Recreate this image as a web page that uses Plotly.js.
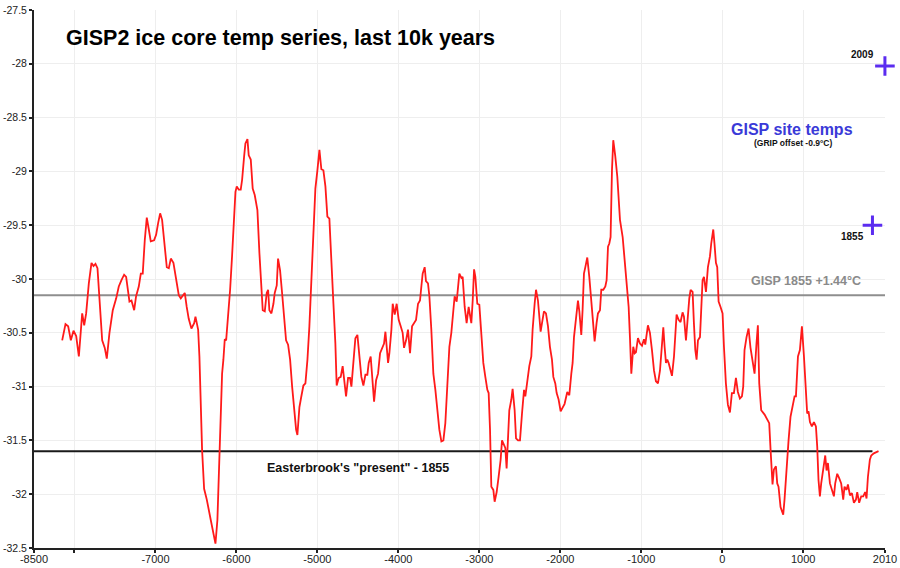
<!DOCTYPE html>
<html>
<head>
<meta charset="utf-8">
<script src="https://cdn.plot.ly/plotly-3.0.1.min.js"></script>
<style>html,body{margin:0;padding:0;background:#fff;}#chart{width:900px;height:568px;}</style>
</head>
<body>
<div id="chart"></div>
<script>
// GISP2 temperature series (year, deg C)
const years = [-8152,-8111,-8078,-8045,-8012,-7979,-7946,-7905,-7880,-7856,-7823,-7790,-7765,-7741,-7716,-7691,-7658,-7626,-7601,-7568,-7527,-7485,-7453,-7420,-7387,-7362,-7321,-7296,-7263,-7239,-7206,-7181,-7157,-7132,-7107,-7082,-7058,-7017,-6992,-6967,-6942,-6918,-6885,-6860,-6835,-6810,-6778,-6745,-6712,-6687,-6663,-6638,-6614,-6589,-6556,-6522,-6506,-6473,-6457,-6424,-6399,-6366,-6317,-6284,-6259,-6235,-6210,-6177,-6161,-6144,-6127,-6103,-6078,-6054,-6029,-6012,-5996,-5971,-5947,-5930,-5905,-5889,-5864,-5848,-5823,-5799,-5774,-5741,-5716,-5691,-5675,-5650,-5626,-5609,-5593,-5568,-5543,-5527,-5502,-5486,-5461,-5436,-5412,-5387,-5362,-5337,-5312,-5288,-5263,-5247,-5222,-5198,-5173,-5148,-5123,-5099,-5074,-5049,-5025,-5000,-4975,-4951,-4926,-4901,-4877,-4852,-4827,-4802,-4778,-4762,-4737,-4712,-4688,-4671,-4646,-4621,-4597,-4580,-4556,-4531,-4506,-4481,-4457,-4432,-4407,-4383,-4366,-4342,-4317,-4300,-4275,-4251,-4226,-4201,-4177,-4160,-4144,-4127,-4111,-4086,-4070,-4045,-4021,-3996,-3971,-3947,-3930,-3905,-3881,-3856,-3831,-3807,-3782,-3757,-3733,-3716,-3700,-3675,-3659,-3634,-3617,-3593,-3568,-3543,-3519,-3494,-3469,-3444,-3420,-3395,-3370,-3346,-3321,-3305,-3280,-3264,-3247,-3222,-3206,-3181,-3157,-3132,-3115,-3099,-3082,-3065,-3049,-3025,-3000,-2975,-2951,-2926,-2901,-2885,-2868,-2852,-2827,-2811,-2786,-2762,-2737,-2720,-2696,-2679,-2663,-2646,-2630,-2605,-2589,-2564,-2547,-2522,-2498,-2473,-2448,-2432,-2407,-2383,-2358,-2342,-2317,-2300,-2276,-2243,-2226,-2202,-2177,-2152,-2128,-2103,-2086,-2062,-2045,-2021,-1996,-1972,-1947,-1914,-1889,-1864,-1848,-1831,-1806,-1782,-1765,-1741,-1725,-1708,-1691,-1667,-1642,-1617,-1593,-1576,-1552,-1535,-1510,-1494,-1469,-1444,-1428,-1411,-1395,-1379,-1362,-1346,-1321,-1296,-1263,-1230,-1206,-1181,-1156,-1140,-1123,-1099,-1082,-1066,-1041,-1016,-991,-967,-951,-918,-893,-868,-843,-819,-794,-769,-744,-728,-712,-695,-679,-662,-638,-621,-596,-580,-564,-539,-515,-490,-473,-448,-424,-407,-391,-366,-350,-333,-317,-300,-275,-259,-243,-226,-201,-177,-152,-136,-111,-95,-78,-62,-45,-21,4,21,45,70,95,119,144,169,193,218,243,259,275,300,325,349,374,399,423,440,457,481,523,556,580,597,621,638,663,679,695,720,737,753,769,794,819,843,868,893,910,935,959,984,1009,1033,1049,1066,1083,1107,1132,1157,1173,1189,1206,1222,1247,1272,1288,1305,1330,1354,1379,1395,1420,1444,1469,1494,1510,1535,1552,1577,1601,1626,1651,1667,1691,1716,1741,1765,1782,1799,1823,1840,1872,1930];
const temps = [-30.57,-30.42,-30.44,-30.57,-30.48,-30.53,-30.72,-30.32,-30.43,-30.32,-30.04,-29.85,-29.88,-29.86,-29.90,-30.16,-30.57,-30.64,-30.74,-30.50,-30.29,-30.18,-30.07,-30.01,-29.96,-29.98,-30.21,-30.20,-30.29,-30.16,-30.07,-29.95,-29.95,-29.64,-29.43,-29.54,-29.65,-29.64,-29.59,-29.48,-29.39,-29.45,-29.67,-29.89,-29.90,-29.81,-29.85,-30.01,-30.15,-30.18,-30.16,-30.13,-30.26,-30.37,-30.46,-30.41,-30.35,-30.47,-30.72,-31.59,-31.95,-32.05,-32.24,-32.36,-32.46,-32.24,-31.59,-30.88,-30.75,-30.56,-30.57,-30.35,-30.10,-29.79,-29.39,-29.19,-29.14,-29.17,-29.17,-29.08,-28.86,-28.74,-28.70,-28.85,-28.89,-29.16,-29.22,-29.36,-29.76,-30.07,-30.29,-30.30,-30.13,-30.10,-30.29,-30.32,-30.23,-30.13,-30.06,-29.81,-29.92,-30.13,-30.35,-30.57,-30.61,-30.75,-31.00,-31.22,-31.40,-31.45,-31.19,-31.09,-30.99,-30.97,-30.75,-30.44,-29.95,-29.51,-29.16,-28.99,-28.80,-28.98,-28.99,-29.14,-29.42,-29.44,-29.92,-30.23,-30.60,-30.99,-30.92,-30.91,-30.81,-30.91,-31.09,-30.92,-30.92,-31.00,-30.78,-30.55,-30.52,-30.72,-30.91,-30.99,-30.89,-30.89,-30.78,-30.72,-30.97,-31.14,-30.94,-30.88,-30.69,-30.64,-30.60,-30.49,-30.63,-30.78,-30.69,-30.47,-30.23,-30.33,-30.23,-30.38,-30.44,-30.50,-30.64,-30.57,-30.47,-30.69,-30.44,-30.41,-30.38,-30.23,-30.20,-30.07,-29.95,-29.89,-30.02,-30.04,-30.16,-30.47,-30.88,-31.03,-31.22,-31.40,-31.51,-31.50,-31.34,-30.97,-30.63,-30.50,-30.29,-30.16,-30.21,-30.07,-29.95,-29.99,-29.98,-30.26,-30.41,-30.26,-30.35,-30.41,-30.20,-29.91,-29.98,-30.23,-30.24,-30.54,-30.78,-30.91,-31.03,-31.06,-31.40,-31.93,-31.96,-32.07,-31.98,-31.84,-31.68,-31.50,-31.54,-31.57,-31.76,-31.43,-31.22,-31.12,-31.02,-31.22,-31.48,-31.50,-31.50,-31.25,-31.03,-31.09,-30.94,-30.81,-30.72,-30.47,-30.23,-30.10,-30.20,-30.49,-30.41,-30.30,-30.32,-30.44,-30.63,-30.75,-30.91,-30.97,-31.06,-31.12,-31.23,-31.19,-31.16,-31.05,-31.08,-30.88,-30.78,-30.54,-30.35,-30.20,-30.30,-30.52,-30.29,-29.95,-29.89,-29.80,-29.98,-30.23,-30.47,-30.58,-30.41,-30.32,-30.29,-30.10,-30.10,-30.07,-30.01,-29.70,-29.67,-29.61,-28.99,-28.71,-28.86,-29.05,-29.45,-29.61,-29.82,-30.07,-30.26,-30.54,-30.88,-30.63,-30.69,-30.68,-30.55,-30.60,-30.62,-30.56,-30.61,-30.43,-30.50,-30.66,-30.85,-30.95,-30.97,-30.85,-30.60,-30.45,-30.63,-30.78,-30.75,-30.78,-30.85,-30.90,-30.72,-30.54,-30.33,-30.38,-30.40,-30.31,-30.35,-30.57,-30.30,-30.18,-30.10,-30.12,-30.41,-30.66,-30.75,-30.57,-30.54,-30.23,-30.01,-29.98,-30.12,-29.89,-29.79,-29.67,-29.54,-29.68,-29.85,-29.89,-30.21,-30.26,-30.32,-30.63,-30.97,-31.17,-31.24,-31.06,-31.06,-30.92,-31.05,-31.11,-31.09,-31.00,-30.66,-30.54,-30.46,-30.64,-30.78,-30.88,-30.60,-30.43,-30.97,-31.22,-31.26,-31.31,-31.34,-31.59,-31.91,-31.77,-31.74,-31.90,-31.93,-32.12,-32.16,-32.19,-32.05,-31.74,-31.50,-31.28,-31.19,-31.09,-31.09,-30.72,-30.66,-30.44,-30.72,-31.09,-31.25,-31.23,-31.33,-31.37,-31.33,-31.37,-31.56,-31.87,-32.02,-31.90,-31.78,-31.64,-31.78,-31.71,-31.90,-31.96,-32.02,-31.90,-31.81,-31.85,-31.90,-32.05,-31.93,-31.96,-31.91,-32.01,-31.99,-32.08,-32.05,-31.98,-32.08,-32.02,-32.02,-31.98,-32.04,-31.84,-31.68,-31.64,-31.62,-31.60];

// GISP site temperatures
const siteYears = [1855, 2009];
const siteTemps = [-29.5, -28.02];
const siteLabels = ["1855", "2009"];

// reference levels
const gisp1855Level = -30.15;   // GISP 1855 +1.44°C
const presentLevel = -31.6;     // Easterbrook's "present" - 1855
const gisp1855Span = [-8500, 2010];
const presentSpan = [-8500, 1855];

// ticks
const xTickVals = [-8500,-8000,-7000,-6000,-5000,-4000,-3000,-2000,-1000,0,1000,2010];
const xTickText = ["-8500","","-7000","-6000","-5000","-4000","-3000","-2000","-1000","0","1000","2010"];
const yTickVals = [-27.5,-28,-28.5,-29,-29.5,-30,-30.5,-31,-31.5,-32,-32.5];
const yTickText = ["-27.5","-28","-28.5","-29","-29.5","-30","-30.5","-31","-31.5","-32","-32.5"];

const FONT = "Liberation Sans, Arial, Helvetica, sans-serif";

const traces = [
  {x: gisp1855Span, y: [gisp1855Level, gisp1855Level], mode: "lines",
   line: {color: "#8e8e8e", width: 2}, hoverinfo: "skip"},
  {x: presentSpan, y: [presentLevel, presentLevel], mode: "lines",
   line: {color: "#1a1a1a", width: 2}, hoverinfo: "skip"},
  {x: years, y: temps, mode: "lines",
   line: {color: "#ff1a1a", width: 1.8}},
  {x: siteYears, y: siteTemps, mode: "markers",
   marker: {symbol: "cross-thin", size: 14, line: {color: "#5b2cf0", width: 3}},
   cliponaxis: false}
];

function px(x){ return (x - 34) / 851; }
function py(y){ return (548 - y) / 538; }

const annotations = [
  {text: "GISP2 ice core temp series, last 10k years", xref: "paper", yref: "paper",
   x: px(64), y: py(38), xanchor: "left", yanchor: "middle", showarrow: false,
   font: {family: FONT, size: 21.5, color: "#000", weight: "bold"}},
  {text: "GISP site temps", xref: "paper", yref: "paper",
   x: px(792), y: py(129), xanchor: "center", yanchor: "middle", showarrow: false,
   font: {family: FONT, size: 16, color: "#3a3ad8", weight: "bold"}},
  {text: "(GRIP offset -0.9°C)", xref: "paper", yref: "paper",
   x: px(793), y: py(143), xanchor: "center", yanchor: "middle", showarrow: false,
   font: {family: FONT, size: 8.5, color: "#111", weight: "bold"}},
  {text: siteLabels[1], xref: "paper", yref: "paper",
   x: px(876), y: py(54), xanchor: "right", yanchor: "middle", showarrow: false,
   font: {family: FONT, size: 10, color: "#111", weight: "bold"}},
  {text: siteLabels[0], xref: "paper", yref: "paper",
   x: px(866), y: py(237), xanchor: "right", yanchor: "middle", showarrow: false,
   font: {family: FONT, size: 10, color: "#111", weight: "bold"}},
  {text: "GISP 1855 +1.44°C", xref: "paper", yref: "paper",
   x: px(806), y: py(281), xanchor: "center", yanchor: "middle", showarrow: false,
   font: {family: FONT, size: 12.5, color: "#8a8a8a", weight: "bold"}},
  {text: "Easterbrook's \"present\" - 1855", xref: "paper", yref: "paper",
   x: px(358), y: py(468), xanchor: "center", yanchor: "middle", showarrow: false,
   font: {family: FONT, size: 12.5, color: "#111", weight: "bold"}}
];

const layout = {
  width: 900, height: 568,
  margin: {l: 34, r: 15, t: 10, b: 20, pad: 0},
  paper_bgcolor: "#fff", plot_bgcolor: "#fff",
  showlegend: false,
  font: {family: FONT, size: 11, color: "#222"},
  xaxis: {
    range: [-8500, 2010], tickmode: "array", tickvals: xTickVals, ticktext: xTickText,
    showgrid: true, gridcolor: "#eeeeee", gridwidth: 1, zeroline: false,
    showline: true, linecolor: "#222", linewidth: 2,
    ticks: "outside", ticklen: 3, tickwidth: 2, tickcolor: "#222",
    ticklabelstandoff: -3,
    tickfont: {family: FONT, size: 11, color: "#222"}, fixedrange: true
  },
  yaxis: {
    range: [-32.5, -27.5], tickmode: "array", tickvals: yTickVals, ticktext: yTickText,
    showgrid: true, gridcolor: "#eeeeee", gridwidth: 1, zeroline: false,
    showline: true, linecolor: "#222", linewidth: 2,
    ticks: "outside", ticklen: 3, tickwidth: 2, tickcolor: "#222",
    tickfont: {family: FONT, size: 10.5, color: "#222"}, fixedrange: true
  },
  annotations: annotations
};

Plotly.newPlot("chart", traces, layout, {displayModeBar: false, staticPlot: true});
</script>
</body>
</html>
